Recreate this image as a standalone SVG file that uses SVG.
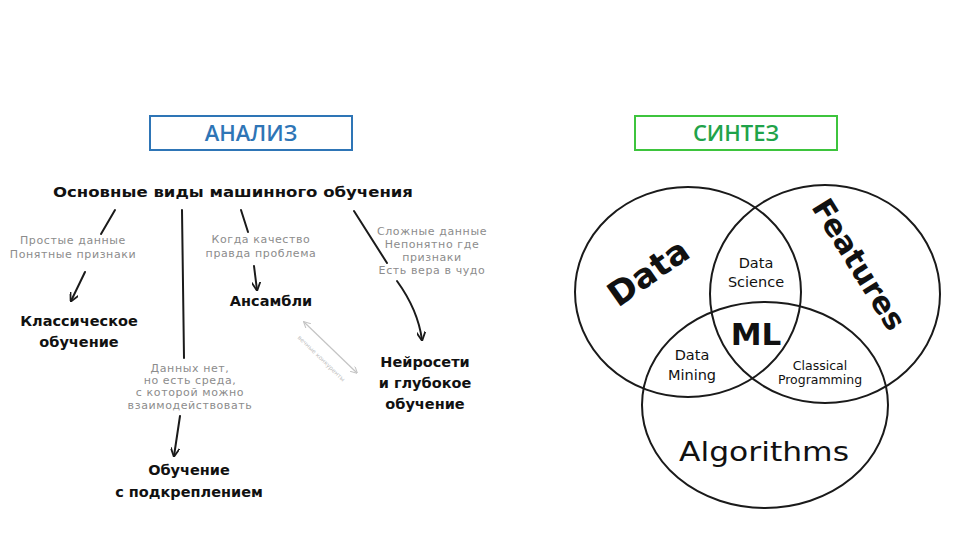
<svg xmlns="http://www.w3.org/2000/svg" width="960" height="540" viewBox="0 0 960 540">
<style>
.hdr{font-family:"Open Sans","Liberation Sans",sans-serif;font-size:22px;font-weight:600;text-anchor:middle}
.node{font-family:"DejaVu Sans","Liberation Sans",sans-serif;font-size:14.5px;font-weight:bold;fill:#111;text-anchor:middle}
.note{font-family:"DejaVu Sans","Liberation Sans",sans-serif;font-size:11px;letter-spacing:0.6px;fill:#8c8c8c;text-anchor:middle}
.con{fill:none;stroke:#1a1a1a;stroke-width:2;stroke-linecap:round}
.venn{fill:none;stroke:#1a1a1a;stroke-width:2}
.vt{font-family:"DejaVu Sans","Liberation Sans",sans-serif;fill:#111;text-anchor:middle}
</style>
<defs>
<marker id="ah" viewBox="0 0 10 10" refX="9" refY="5" markerWidth="9" markerHeight="9" markerUnits="userSpaceOnUse" orient="auto">
<path d="M0,0 L10,5 L0,10" fill="none" stroke="#1a1a1a" stroke-width="2"/>
</marker>
<marker id="ahg" viewBox="0 0 10 10" refX="9" refY="5" markerWidth="7" markerHeight="7" markerUnits="userSpaceOnUse" orient="auto-start-reverse">
<path d="M0,0 L10,5 L0,10" fill="none" stroke="#c4c4c4" stroke-width="1.5"/>
</marker>
</defs>
<rect width="960" height="540" fill="#fff"/>

<g id="analiz">
<rect x="150" y="116" width="202" height="34" fill="#fff" stroke="#2e75b6" stroke-width="2"/>
<text class="hdr" x="251" y="141" fill="#2e75b6">АНАЛИЗ</text>
</g>
<g id="sintez">
<rect x="635" y="116" width="202" height="34" fill="#fff" stroke="#3dc43d" stroke-width="2"/>
<text class="hdr" x="736" y="141" fill="#1fa34a">СИНТЕЗ</text>
</g>

<g id="connectors">
<path class="con" d="M115,210 L101,234"/>
<path class="con" d="M85,272 L71,301" marker-end="url(#ah)"/>
<path class="con" d="M182,210 L184,358"/>
<path class="con" d="M180,416 L174,456" marker-end="url(#ah)"/>
<path class="con" d="M241,210 L248,232"/>
<path class="con" d="M254,266 L257,290" marker-end="url(#ah)"/>
<path class="con" d="M354,211 L387,263"/>
<path class="con" d="M397,281 Q418,310 422,340" marker-end="url(#ah)"/>
<path d="M304,322 L357,373" fill="none" stroke="#c4c4c4" stroke-width="1.2" marker-start="url(#ahg)" marker-end="url(#ahg)"/>
<text transform="translate(320,360) rotate(44)" font-family="DejaVu Sans,sans-serif" font-size="6" fill="#c0c0c0" text-anchor="middle">вечные конкуренты</text>
</g>

<g id="root">
<text class="node" x="233" y="197" font-size="16.5" textLength="360" lengthAdjust="spacingAndGlyphs">Основные виды машинного обучения</text>
</g>
<g id="note-classic">
<text class="note" x="73" y="244">Простые данные</text>
<text class="note" x="73" y="258">Понятные признаки</text>
</g>
<g id="note-ensemble">
<text class="note" x="261" y="243">Когда качество</text>
<text class="note" x="261" y="257">правда проблема</text>
</g>
<g id="note-neuro">
<text class="note" x="432" y="235">Сложные данные</text>
<text class="note" x="432" y="248">Непонятно где</text>
<text class="note" x="432" y="261">признаки</text>
<text class="note" x="432" y="274">Есть вера в чудо</text>
</g>
<g id="note-rl">
<text class="note" x="190" y="372">Данных нет,</text>
<text class="note" x="190" y="384">но есть среда,</text>
<text class="note" x="190" y="396">с которой можно</text>
<text class="note" x="190" y="409">взаимодействовать</text>
</g>
<g id="classic">
<text class="node" x="79" y="326">Классическое</text>
<text class="node" x="79" y="347">обучение</text>
</g>
<g id="ensemble">
<text class="node" x="271" y="306">Ансамбли</text>
</g>
<g id="neuro">
<text class="node" x="425" y="367">Нейросети</text>
<text class="node" x="425" y="388">и глубокое</text>
<text class="node" x="425" y="409">обучение</text>
</g>
<g id="rl">
<text class="node" x="189" y="475">Обучение</text>
<text class="node" x="189" y="497">с подкреплением</text>
</g>

<g id="venn">
<ellipse class="venn" cx="688" cy="292" rx="113" ry="105"/>
<ellipse class="venn" cx="825" cy="294" rx="115" ry="109"/>
<ellipse class="venn" cx="765" cy="405" rx="123" ry="103"/>
<text class="vt" transform="translate(655,282) rotate(-35)" font-size="34" font-weight="bold">Data</text>
<text class="vt" transform="translate(850,270) rotate(58)" font-size="30" font-weight="bold">Features</text>
<text class="vt" x="756" y="268" font-size="14.5">Data</text>
<text class="vt" x="756" y="287" font-size="14.5">Science</text>
<text class="vt" x="756" y="345" font-size="31" font-weight="bold">ML</text>
<text class="vt" x="692" y="360" font-size="14.5">Data</text>
<text class="vt" x="692" y="380" font-size="14.5">Mining</text>
<text class="vt" x="820" y="370" font-size="12.5">Classical</text>
<text class="vt" x="820" y="384" font-size="12.5">Programming</text>
<text class="vt" x="764" y="461" font-size="27" textLength="170" lengthAdjust="spacingAndGlyphs">Algorithms</text>
</g>
</svg>
